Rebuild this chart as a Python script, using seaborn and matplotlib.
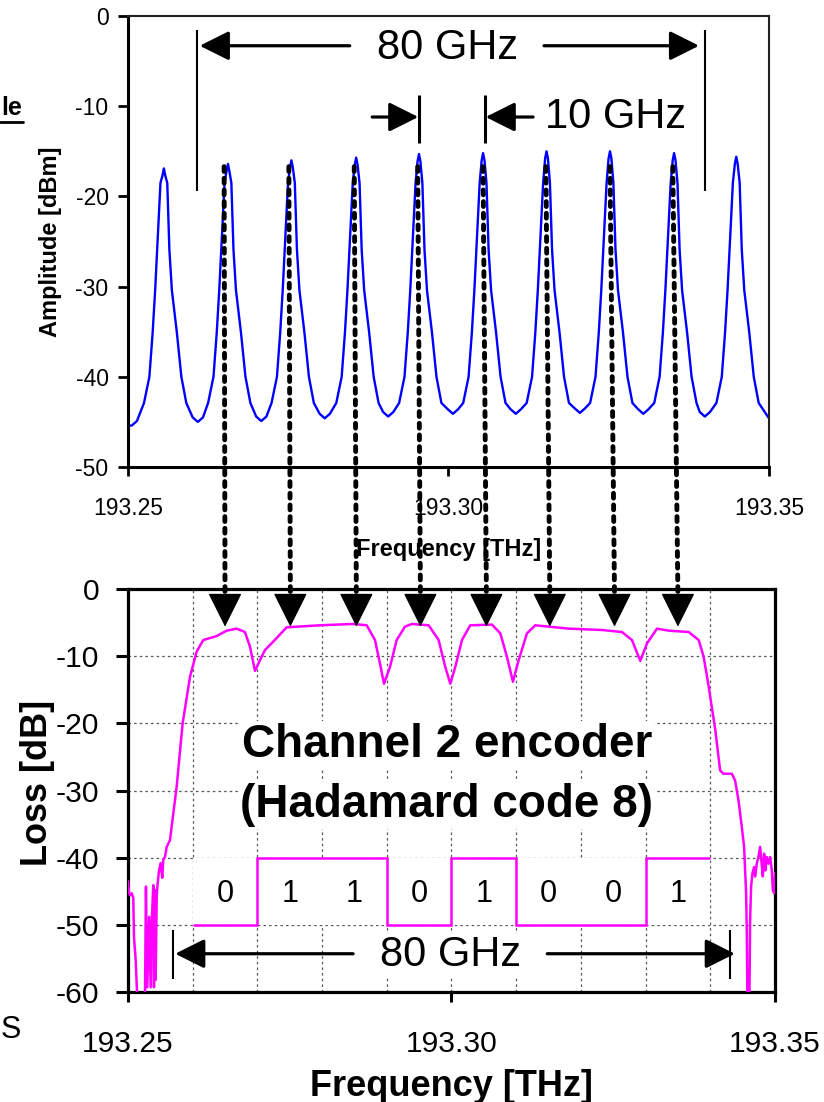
import numpy as np
import pandas as pd
import matplotlib
matplotlib.use("Agg")
import matplotlib.pyplot as plt
import seaborn as sns
from matplotlib.patches import ConnectionPatch
from matplotlib.lines import Line2D

# ---------------- data: upper panel (comb spectrum) ----------------
comb_peak_freq = [193.2556, 193.2656, 193.2755, 193.2856, 193.2954,
                  193.3054, 193.3153, 193.3252, 193.3352, 193.3449]
comb_peak_dbm = [-16.9, -16.4, -16.0, -15.7, -15.3, -15.2, -15.0, -15.0, -15.2, -15.6]
comb_tip_dbm = [-17.7, -17.2, -16.8, -16.5, -16.1, -16.0, -15.8, -15.8, -16.0, -16.4]
comb_valley_freq = [193.2609, 193.2708, 193.2807, 193.2906, 193.3007,
                    193.3105, 193.3205, 193.3304, 193.3400]
comb_valley_dbm = [-45.0, -44.9, -44.6, -44.4, -44.1, -44.1, -44.0, -44.1, -44.4]
comb_valley_rim_dbm = [-44.5, -44.4, -44.1, -43.9, -43.6, -43.6, -43.5, -43.6, -43.9]
flank_offset_left = [-0.0031, -0.00226, -0.00175, -0.00136, -0.00105, -0.00053, -0.00022]
flank_offset_right = [0.00022, 0.00053, 0.00086, 0.00125, 0.00203, 0.00273, 0.0035]
flank_dbm = [-42.9, -40.0, -35.1, -30.4, -25.9, -18.5]
comb_start_freq = [193.2500, 193.2506, 193.2514]
comb_start_dbm = [-45.4, -45.4, -44.9]
comb_end_freq = [193.3500]
comb_end_dbm = [-44.6]

# ---------------- data: lower panel (encoder loss) ----------------
enc_freq = [193.25000, 193.25015, 193.25031, 193.25057, 193.25082, 193.25093, 193.25119,
            193.25144, 193.25263, 193.25278, 193.25298, 193.25329, 193.25351, 193.25371,
            193.25391, 193.25402, 193.25417, 193.25428, 193.25444, 193.25459, 193.25479,
            193.25505, 193.25530, 193.25546, 193.25572, 193.25598, 193.25649, 193.25753,
            193.25845, 193.25958, 193.26062, 193.26164, 193.26371, 193.26525, 193.26680,
            193.26808, 193.26886, 193.26963, 193.27040, 193.27117, 193.27298, 193.27453,
            193.27968, 193.28483, 193.28690, 193.28818, 193.28895, 193.28957, 193.29050,
            193.29153, 193.29281, 193.29389, 193.29647, 193.29802, 193.29904, 193.29982,
            193.30059, 193.30162, 193.30290, 193.30626, 193.30755, 193.30858, 193.30950,
            193.31038, 193.31167, 193.31295, 193.31811, 193.32326, 193.32635, 193.32790,
            193.32918, 193.33022, 193.33176, 193.33357, 193.33666, 193.33821, 193.33898,
            193.33975, 193.34078, 193.34152, 193.34203, 193.34333, 193.34384, 193.34435,
            193.34487, 193.34523, 193.34554, 193.34565, 193.34574, 193.34605, 193.34616,
            193.34631, 193.34652, 193.34678, 193.34693, 193.34719, 193.34744, 193.34770,
            193.34790, 193.34812, 193.34832, 193.34852, 193.34874, 193.34899, 193.34925,
            193.34951, 193.34967, 193.34987, 193.35000]
enc_loss = [-43.5, -45.2, -45.6, -45.3, -46.0, -51.8, -55.2,
            -61.0, -61.0, -44.3, -59.3, -48.8, -59.3, -48.8,
            -44.1, -59.3, -44.8, -58.2, -45.8, -43.8, -42.0,
            -40.8, -43.0, -40.3, -39.9, -38.4, -37.4, -29.4,
            -20.0, -13.1, -9.3, -7.6, -7.0, -6.2, -5.9,
            -6.4, -8.6, -12.2, -10.6, -9.1, -7.3, -5.7,
            -5.4, -5.2, -5.4, -7.6, -11.1, -14.1, -11.6,
            -7.6, -5.6, -5.2, -5.4, -7.6, -11.6, -14.1,
            -11.6, -7.6, -5.4, -5.3, -6.6, -10.1, -13.8,
            -10.6, -6.6, -5.4, -5.9, -6.1, -6.4, -7.6,
            -10.7, -8.1, -5.9, -6.2, -6.4, -7.6, -10.1,
            -14.5, -21.0, -27.0, -27.5, -27.5, -28.5, -31.4,
            -35.4, -38.4, -45.3, -51.3, -61.0, -61.0, -49.3,
            -44.3, -42.3, -41.4, -42.8, -40.9, -39.9, -38.4,
            -40.4, -42.8, -39.4, -41.9, -39.9, -40.9, -39.9,
            -41.9, -44.8, -45.3, -42.3]

code_bits = [0, 1, 1, 0, 1, 0, 0, 1]
bit_edges = [193.26, 193.27, 193.28, 193.29, 193.30, 193.31, 193.32, 193.33, 193.34]
bit_level = {0: -50, 1: -40}
bit_label_db = -45.4

grid_freq = [193.26, 193.27, 193.28, 193.29, 193.31, 193.32, 193.33, 193.34]
x_ticks = [193.25, 193.30, 193.35]
x_ticklabels = ["193.25", "193.30", "193.35"]
top_yticks = [0, -10, -20, -30, -40, -50]
bot_yticks = [0, -10, -20, -30, -40, -50, -60]

arrow_freq = [193.2650, 193.2751, 193.2853, 193.2952, 193.3054, 193.3152, 193.3252, 193.3350]

# ---------------- assemble the comb trace from the read values ----------------
comb_f = list(comb_start_freq)
comb_a = list(comb_start_dbm)
for k, c in enumerate(comb_peak_freq):
    comb_f += [c + o for o in flank_offset_left] + [c] + [c + o for o in flank_offset_right]
    comb_a += flank_dbm + [comb_tip_dbm[k], comb_peak_dbm[k], comb_tip_dbm[k]] + flank_dbm[::-1]
    if k < len(comb_valley_freq):
        v = comb_valley_freq[k]
        comb_f += [v - 0.0008, v, v + 0.0008]
        comb_a += [comb_valley_rim_dbm[k], comb_valley_dbm[k], comb_valley_rim_dbm[k]]
comb_f += comb_end_freq
comb_a += comb_end_dbm
comb_df = pd.DataFrame({"freq": comb_f, "dbm": comb_a})
enc_df = pd.DataFrame({"freq": enc_freq, "loss": enc_loss})

# ---------------- style ----------------
sns.set_theme(style="white")
plt.rcParams["font.family"] = ["Liberation Sans", "DejaVu Sans"]
plt.rcParams["axes.unicode_minus"] = False
plt.rcParams["text.color"] = "black"
plt.rcParams["axes.labelcolor"] = "black"
plt.rcParams["xtick.color"] = "black"
plt.rcParams["ytick.color"] = "black"

fig = plt.figure(figsize=(8.24, 11.02), dpi=100)
fig.patch.set_facecolor("white")
ax_top = fig.add_axes([0.1553, 0.5762, 0.7779, 0.4093])
ax_bot = fig.add_axes([0.1553, 0.0998, 0.7852, 0.3657])

# ---------------- upper panel ----------------
sns.lineplot(data=comb_df, x="freq", y="dbm", ax=ax_top, color="#0000FF",
             lw=1.7, sort=False, estimator=None)
ax_top.set_xlim(193.25, 193.35)
ax_top.set_ylim(-50, 0)
ax_top.set_xticks(x_ticks)
ax_top.set_xticklabels(x_ticklabels)
ax_top.set_yticks(top_yticks)
ax_top.set_yticklabels([str(v) for v in top_yticks])
ax_top.tick_params(axis="y", direction="out", length=7, width=2, labelsize=16.5,
                   pad=7, left=True, colors="black")
ax_top.tick_params(axis="x", direction="out", length=6.5, width=2, labelsize=16.5,
                   pad=15, bottom=True, colors="black")
for s in ["left", "bottom"]:
    ax_top.spines[s].set_linewidth(2.2)
    ax_top.spines[s].set_color("black")
for s in ["top", "right"]:
    ax_top.spines[s].set_linewidth(1.5)
    ax_top.spines[s].set_color("#222222")
ax_top.grid(False)
ax_top.set_xlabel("Frequency [THz]", fontsize=17, fontweight="bold", color="black")
ax_top.xaxis.set_label_coords(0.5, -0.158)
ax_top.set_ylabel("Amplitude [dBm]", fontsize=17, fontweight="bold", color="black")
ax_top.yaxis.set_label_coords(-0.103, 0.5)

head = "-|>,head_length=0.9,head_width=0.45"
span80_top = (193.2608, 193.3400)
ax_top.vlines(span80_top, -19.4, -1.55, color="black", lw=1.5)
ax_top.annotate("", xy=(193.2612, -3.3), xytext=(193.2846, -3.3),
                arrowprops=dict(arrowstyle=head, mutation_scale=20, lw=2.3, color="black",
                                shrinkA=0, shrinkB=0))
ax_top.annotate("", xy=(193.3391, -3.3), xytext=(193.3149, -3.3),
                arrowprops=dict(arrowstyle=head, mutation_scale=20, lw=2.3, color="black",
                                shrinkA=0, shrinkB=0))
ax_top.text(193.2998, -3.55, "80 GHz", fontsize=30, ha="center", va="center", color="black")

span10 = (193.2954, 193.3057)
ax_top.vlines(span10, -14.1, -8.76, color="black", lw=2.2)
ax_top.annotate("", xy=(193.2953, -11.2), xytext=(193.2881, -11.2),
                arrowprops=dict(arrowstyle=head, mutation_scale=20, lw=2.3, color="black",
                                shrinkA=0, shrinkB=0))
ax_top.annotate("", xy=(193.3058, -11.2), xytext=(193.3132, -11.2),
                arrowprops=dict(arrowstyle=head, mutation_scale=20, lw=2.3, color="black",
                                shrinkA=0, shrinkB=0))
ax_top.text(193.3261, -11.2, "10 GHz", fontsize=30, ha="center", va="center", color="black")

# ---------------- lower panel ----------------
ax_bot.set_xlim(193.25, 193.35)
ax_bot.set_ylim(-60, 0)
ax_bot.set_xticks(x_ticks)
ax_bot.set_xticklabels(x_ticklabels)
ax_bot.set_xticks(grid_freq, minor=True)
ax_bot.set_yticks(bot_yticks)
ax_bot.set_yticklabels([str(v) for v in bot_yticks])
ax_bot.tick_params(axis="y", direction="out", length=8.5, width=2.2, labelsize=21.6,
                   pad=12, left=True, colors="black")
ax_bot.tick_params(axis="x", which="major", direction="out", length=7.5, width=2.2,
                   labelsize=21.6, pad=20, bottom=True, colors="black")
ax_bot.tick_params(axis="x", which="minor", length=0)
for s in ax_bot.spines.values():
    s.set_linewidth(2.3)
    s.set_color("black")
ax_bot.grid(True, which="both", axis="x", color="#555555", lw=0.9, ls=(0, (2, 2.5)))
ax_bot.grid(True, which="major", axis="y", color="#555555", lw=0.9, ls=(0, (2, 2.5)))
ax_bot.set_axisbelow(True)

# white box behind the code bits
ax_bot.fill_between([bit_edges[0], bit_edges[-1]], bit_level[0], bit_level[1],
                    color="white", lw=0, zorder=1.5)
sns.lineplot(data=enc_df, x="freq", y="loss", ax=ax_bot, color="#FF00FF",
             lw=1.8, sort=False, estimator=None, zorder=3)
ax_bot.stairs([bit_level[b] for b in code_bits], bit_edges, baseline=None,
              color="#FF00FF", lw=1.8, zorder=3)
for i, b in enumerate(code_bits):
    ax_bot.text((bit_edges[i] + bit_edges[i + 1]) / 2, bit_label_db, str(b),
                fontsize=22, ha="center", va="center", zorder=4, color="black")

ax_bot.text(193.2993, -23.2, "Channel 2 encoder", fontsize=33, fontweight="bold",
            ha="center", va="center", zorder=2, color="black",
            bbox=dict(facecolor="white", edgecolor="none", pad=1))
ax_bot.text(193.2993, -32.2, "(Hadamard code 8)", fontsize=33, fontweight="bold",
            ha="center", va="center", zorder=2, color="black",
            bbox=dict(facecolor="white", edgecolor="none", pad=1))

span80_bot = (193.2570, 193.3430)
ax_bot.vlines(span80_bot, -58.0, -50.7, color="black", lw=1.5, zorder=4)
ax_bot.annotate("", xy=(193.2573, -54.3), xytext=(193.2848, -54.3),
                arrowprops=dict(arrowstyle=head, mutation_scale=20, lw=2.3, color="black",
                                shrinkA=0, shrinkB=0), zorder=4)
ax_bot.annotate("", xy=(193.3438, -54.3), xytext=(193.3148, -54.3),
                arrowprops=dict(arrowstyle=head, mutation_scale=20, lw=2.3, color="black",
                                shrinkA=0, shrinkB=0), zorder=4)
ax_bot.text(193.2998, -54.5, "80 GHz", fontsize=30, ha="center", va="center", zorder=4,
            color="black", bbox=dict(facecolor="white", edgecolor="none", pad=1))

ax_bot.set_xlabel("Frequency [THz]", fontsize=26, fontweight="bold", color="black")
ax_bot.xaxis.set_label_coords(0.5, -0.19)
ax_bot.set_ylabel("Loss [dB]", fontsize=26, fontweight="bold", color="black")
ax_bot.yaxis.set_label_coords(-0.113, 0.52)

# ---------------- dotted mapping arrows between panels ----------------
for f in arrow_freq:
    con = ConnectionPatch(xyA=(f, -16.7), coordsA=ax_top.transData,
                          xyB=(f, -0.9), coordsB=ax_bot.transData,
                          color="black", lw=3.5, linestyle=(0, (1, 1.4)), zorder=10)
    fig.add_artist(con)
    ax_bot.annotate("", xy=(f, -5.6), xytext=(f, -0.9),
                    arrowprops=dict(arrowstyle="-|>,head_length=1.1,head_width=0.55",
                                    mutation_scale=20, lw=1, color="black",
                                    shrinkA=0, shrinkB=0),
                    annotation_clip=False, zorder=10)

# ---------------- text fragments at the left edge ----------------
fig.text(22 / 824, 1 - 115 / 1102, "le", fontsize=18, fontweight="bold",
         ha="right", va="baseline", color="black")
fig.add_artist(Line2D([0, 23 / 824], [1 - 122 / 1102] * 2, transform=fig.transFigure,
                      color="black", lw=2))
fig.text(1 / 824, 1 - 1038 / 1102, "S", fontsize=22, ha="left", va="baseline", color="black")

fig.savefig("out.png", dpi=100, facecolor="white")
